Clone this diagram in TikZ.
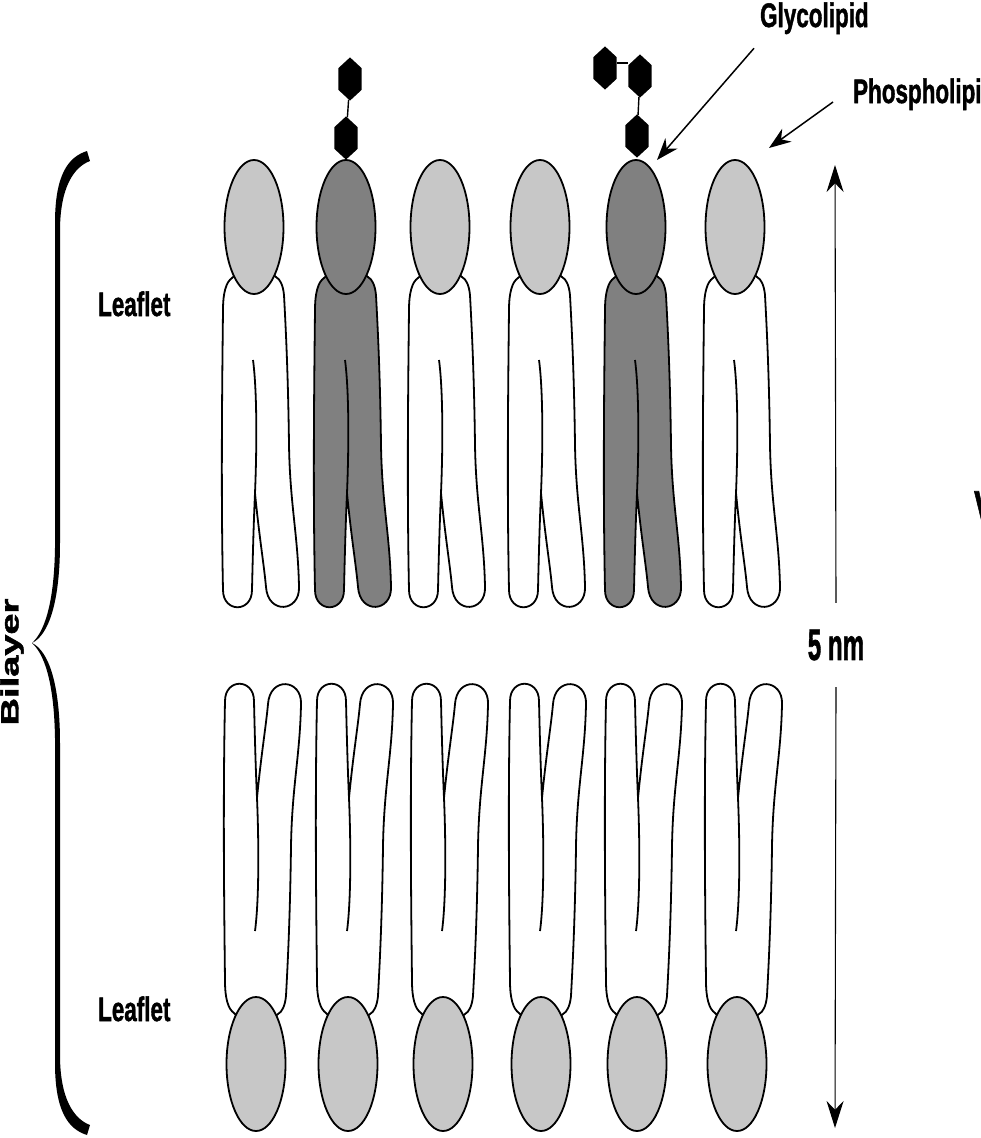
\documentclass[tikz,border=0pt]{standalone}
\usepackage{fontspec}
\setmainfont{Liberation Sans}[BoldFeatures={FakeBold=1.6}]
\usetikzlibrary{arrows.meta,shapes.geometric}

\definecolor{headgray}{gray}{0.78}
\definecolor{glygray}{gray}{0.5}

\newcommand{\lblfont}[1]{\fontsize{#1}{#1}\selectfont\bfseries}

\tikzset{
  outline/.style={draw=black, line width=1.8pt, line join=round},
  lbl/.style={font=\lblfont{34}, inner sep=0pt},
  narrow/.style={xscale=0.66},
  sugar/.style={regular polygon, regular polygon sides=6, shape border rotate=90,
    fill=black, inner sep=0pt, minimum size=27pt, yscale=1.6},
  % one lipid: tails hanging from the head, axis of the bilayer at y=0
  pics/lipid/.style 2 args={code={
    \path[outline, fill=#2]
      (-22,-367) .. controls (-28,-363) and (-31,-352) .. (-31,-335)
      .. controls (-32,-250) and (-33,-150) .. (-31,-55)
      .. controls (-31,-32) and (-2,-32) .. (-2,-55)
      .. controls (-1,-100) and (0,-130) .. (1,-152)
      .. controls (5,-110) and (10,-80) .. (12,-58)
      .. controls (14,-30) and (46,-33) .. (45,-58)
      .. controls (44,-110) and (36,-140) .. (35,-200)
      .. controls (34,-280) and (31,-330) .. (30,-350)
      .. controls (29,-360) and (26,-366) .. (22,-368)
      .. controls (10,-380) and (-10,-380) .. (-22,-367) -- cycle;
    \draw[outline] (-1,-285) .. controls (3,-255) and (3,-200) .. (1,-152);
    \path[outline, fill=#1] (0,-418) ellipse [x radius=29.5pt, y radius=67pt];
  }},
}

\begin{document}
\begin{tikzpicture}[x=1pt, y=-1pt, >={Stealth[length=22pt, width=16pt]}]

  \useasboundingbox (0,0) rectangle (981,1138);
  \fill[white] (0,0) rectangle (981,1138);
  \clip (0,0) rectangle (981,1138);

  % --- 1. upper leaflet (two glycolipids) ---
  \foreach \cx/\hd/\tl [count=\i] in {254/headgray/white, 346/glygray/glygray,
      440/headgray/white, 540/headgray/white, 636/glygray/glygray, 735/headgray/white}
    \pic (top\i) at (\cx,645) {lipid={\hd}{\tl}};

  % --- 2. lower leaflet, mirrored ---
  \foreach \cx [count=\i] in {256,348,443,541,637,737}
    \pic[yscale=-1] (bot\i) at (\cx,646) {lipid={headgray}{white}};

  % --- 3. sugar chains ---
  \node[sugar] (s1a) at (346,138) {};
  \node[sugar] (s1b) at (350,79) {};
  \draw[line width=1.4pt] (s1a) -- (s1b);

  \node[sugar] (s2a) at (637,136) {};
  \node[sugar] (s2b) at (640,76) {};
  \node[sugar] (s2c) at (605,68) {};
  \draw[line width=1.4pt] (s2a) -- (s2b);
  \draw[line width=1.4pt] ([yshift=5pt]s2c.east) -- ([yshift=13pt]s2b.west);

  % --- 4. labels and pointers ---
  \node[lbl, narrow, anchor=base west] (glylab) at (760,27) {Glycolipid};
  \node[lbl, narrow, anchor=base west] (phlab) at (853,103) {Phospholipid};
  \coordinate (glyTip) at (657,160);
  \coordinate (phTip) at (769,148);
  \draw[->, line width=1.5pt] ([xshift=-6pt, yshift=-14pt]glylab.south west) -- (glyTip);
  \draw[->, line width=1.5pt] ([xshift=-20pt, yshift=1pt]phlab.base west) -- (phTip);

  \node[lbl, narrow, anchor=base west] (leafTop) at (98,316) {Leaflet};
  \node[lbl, narrow, anchor=base west] (leafBot) at (98,1021) {Leaflet};

  % thickness of the bilayer
  \node[lbl, font=\lblfont{44}, xscale=0.55, minimum height=84pt] (nm) at (836,645) {5 nm};
  \coordinate (nmTop) at (835,165);
  \coordinate (nmBot) at (835,1128);
  \draw[->, line width=1.1pt, >={Stealth[length=27pt, width=17pt]}] (nm.north) -- (nmTop);
  \draw[->, line width=1.1pt, >={Stealth[length=27pt, width=17pt]}] (nm.south) -- (nmBot);

  % --- 5. brace over both leaflets ---
  \begin{scope}[shift={(32,643)}]
    \foreach \s in {1,-1}
      \fill[yscale=\s] (0,0) .. controls (11,-10) and (22,-35) .. (23,-95) -- (23,-420)
        .. controls (23,-468) and (36,-486) .. (55,-492) -- (58,-482)
        .. controls (42,-476) and (28,-456) .. (28,-412) -- (28,-100)
        .. controls (28,-42) and (17,-8) .. (0,0) -- cycle;
  \end{scope}
  \node[lbl, font=\lblfont{38}, narrow, rotate=90] (bilayer) at (12,662) {Bilayer};

  \node[lbl, font=\lblfont{46}, narrow, anchor=base west] (edge) at (974,523) {V};

\end{tikzpicture}
\end{document}
